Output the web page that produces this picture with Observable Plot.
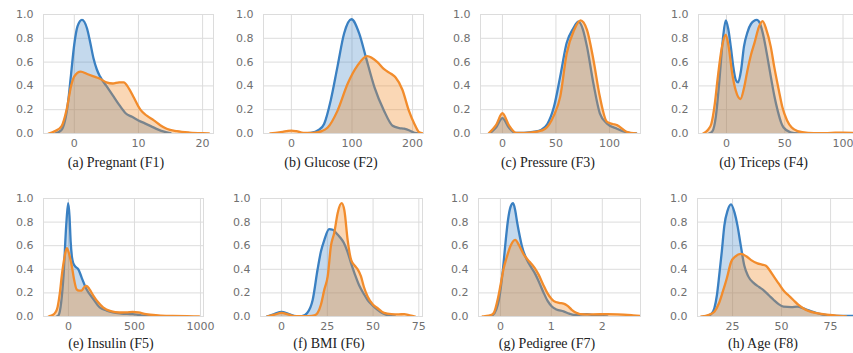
<!DOCTYPE html>
<html>
<head>
<meta charset="utf-8">
<script src="https://cdn.jsdelivr.net/npm/d3@7"></script>
<script src="https://cdn.jsdelivr.net/npm/@observablehq/plot@0.6"></script>
<style>
  html, body { margin: 0; padding: 0; background: #fff; }
  #root { position: relative; width: 853px; height: 353px; overflow: hidden; background: #fff; }
  .panel { position: absolute; }
  div.cap { position: absolute; width: 220px; text-align: center; font-family: "Liberation Serif", "DejaVu Serif", "Times New Roman", serif; font-size: 14px; line-height: 15px; color: #222; white-space: nowrap; }
</style>
</head>
<body>
<div id="root"></div>
<script>
// ---- Data: KDE curves (blue = outcome 0, orange = outcome 1) ----
const captions = ["(a) Pregnant (F1)", "(b) Glucose (F2)", "(c) Pressure (F3)", "(d) Triceps (F4)",
                  "(e) Insulin (F5)", "(f) BMI (F6)", "(g) Pedigree (F7)", "(h) Age (F8)"];
const yTicks = [0, 0.2, 0.4, 0.6, 0.8, 1.0];
const xTicksPregnant = [0, 10, 20];
const xTicksGlucose = [0, 100, 200];
const xTicksPressure = [0, 50, 100];
const xTicksTriceps = [0, 50, 100];
const xTicksInsulin = [0, 500, 1000];
const xTicksBMI = [0, 25, 50, 75];
const xTicksPedigree = [0, 1, 2];
const xTicksAge = [25, 50, 75];

const pregnant0 = [[-3,0],[-2,0.03],[-1,0.25],[-0.5,0.5],[0,0.75],[0.5,0.9],[1.2,0.955],[2,0.88],[2.5,0.76],[3,0.63],[3.5,0.54],[4,0.48],[5,0.4],[6,0.32],[7,0.24],[8,0.17],[9,0.14],[10,0.11],[11,0.085],[12,0.06],[13,0.035],[14,0.015],[15,0.003]];
const pregnant1 = [[-4,0],[-3,0.02],[-2,0.06],[-1.2,0.2],[-0.5,0.4],[0,0.48],[1,0.52],[2,0.5],[3,0.48],[4,0.46],[5,0.43],[6,0.42],[7,0.43],[7.7,0.43],[8.5,0.38],[9.3,0.3],[10.3,0.2],[11.3,0.15],[12.4,0.11],[13.4,0.07],[14.4,0.04],[16,0.02],[18,0.008],[20,0.002],[21,0]];

const glucose0 = [[20,0],[32,0.005],[45,0.03],[54,0.08],[65,0.28],[76,0.56],[87,0.84],[99,0.96],[112,0.84],[123,0.64],[137,0.39],[153,0.19],[167,0.065],[178,0.045],[186,0.04],[195,0.025],[203,0.005],[210,0]];
const glucose1 = [[-35,0],[-20,0.01],[-8,0.02],[0,0.025],[8,0.02],[20,0.005],[35,0.005],[50,0.02],[60,0.05],[76,0.19],[93,0.42],[109,0.57],[125,0.65],[142,0.6],[153,0.54],[165,0.5],[172,0.47],[183,0.37],[194,0.19],[203,0.08],[211,0.01],[218,0]];

const pressure0 = [[-12,0],[-6,0.05],[0,0.13],[6,0.05],[12,0.005],[20,0.005],[30,0.015],[36,0.03],[42,0.08],[48,0.22],[54,0.48],[60,0.76],[66,0.88],[71,0.94],[75,0.88],[79,0.73],[85,0.42],[91,0.17],[97.5,0.085],[107,0.04],[116,0.01],[125,0]];
const pressure1 = [[-13,0],[-6,0.07],[0,0.17],[6,0.07],[13,0.005],[22,0.005],[32,0.015],[40,0.04],[48,0.15],[54,0.31],[60,0.67],[67,0.87],[73,0.95],[79,0.87],[85,0.62],[91,0.31],[97.5,0.1],[103,0.08],[107,0.07],[116,0.015],[125,0]];

const triceps0 = [[-15,0],[-12,0.02],[-9,0.15],[-6.3,0.42],[-3,0.8],[-0.6,0.95],[1.5,0.88],[3.7,0.73],[6,0.55],[8,0.45],[10,0.43],[12.5,0.53],[15,0.73],[18,0.85],[21,0.92],[26,0.955],[28.5,0.93],[31,0.85],[35,0.65],[38,0.48],[41,0.32],[44,0.19],[47,0.09],[49,0.05],[55,0.01],[62,0]];
const triceps1 = [[-20,0],[-16,0.03],[-13,0.08],[-10,0.25],[-7.7,0.45],[-4,0.72],[-0.6,0.83],[2,0.72],[5,0.5],[8,0.36],[12,0.29],[15,0.38],[18,0.53],[21,0.66],[24,0.76],[28,0.9],[31,0.945],[34,0.88],[38,0.73],[41,0.56],[45,0.36],[48,0.22],[52,0.11],[56,0.05],[61,0.02],[70,0.005],[80,0.002],[90,0.005],[100,0.008],[109,0.005]];

const insulin0 = [[-90,0],[-75,0.01],[-55,0.12],[-37,0.35],[-17,0.77],[-2,0.96],[8,0.85],[17,0.63],[27,0.5],[37,0.45],[55,0.42],[75,0.4],[100,0.33],[137,0.23],[187,0.15],[237,0.077],[290,0.05],[337,0.034],[400,0.025],[487,0.02],[550,0.01],[612,0.005],[700,0]];
const insulin1 = [[-150,0],[-137,0.005],[-110,0.02],[-87,0.06],[-65,0.2],[-50,0.35],[-30,0.5],[-12,0.58],[5,0.53],[25,0.43],[45,0.3],[62,0.23],[80,0.22],[100,0.22],[120,0.25],[137,0.26],[160,0.23],[187,0.18],[225,0.12],[262,0.077],[320,0.045],[387,0.034],[440,0.035],[487,0.04],[530,0.035],[587,0.02],[680,0.01],[787,0.005],[900,0.002],[990,0]];

const bmi0 = [[-8,0],[-4,0.02],[0,0.04],[4,0.02],[8,0.003],[11,0.002],[14,0.03],[17,0.14],[19.7,0.4],[21.5,0.55],[23.4,0.65],[26,0.74],[28,0.735],[29.7,0.71],[32,0.67],[34,0.625],[36,0.55],[38,0.45],[40,0.36],[42.5,0.26],[45,0.19],[47,0.14],[50,0.09],[52.5,0.057],[55,0.03],[58,0.01],[62,0]];
const bmi1 = [[-8,0],[-4,0.015],[0,0.03],[4,0.015],[8,0.003],[15,0.003],[18,0.01],[19.7,0.03],[21.5,0.1],[23.4,0.23],[25.2,0.34],[27,0.6],[28.8,0.71],[30.7,0.88],[32.8,0.96],[34.3,0.9],[36.1,0.65],[38,0.48],[40,0.43],[41.6,0.4],[43.4,0.34],[45,0.25],[47,0.17],[50,0.1],[52.5,0.07],[56,0.03],[60,0.02],[64,0.018],[67,0.02],[70,0.01],[73,0]];

const pedigree0 = [[-0.25,0],[-0.16,0.01],[-0.08,0.06],[-0.03,0.14],[0.05,0.4],[0.1,0.625],[0.15,0.82],[0.2,0.93],[0.25,0.96],[0.29,0.9],[0.33,0.795],[0.38,0.68],[0.42,0.6],[0.52,0.48],[0.6,0.42],[0.69,0.355],[0.77,0.28],[0.85,0.2],[0.93,0.13],[1.01,0.085],[1.1,0.06],[1.24,0.043],[1.35,0.025],[1.44,0.014],[1.55,0.015],[1.7,0.02],[1.85,0.01],[1.96,0.005],[2.1,0]];
const pedigree1 = [[-0.35,0],[-0.3,0.003],[-0.2,0.01],[-0.13,0.03],[-0.05,0.15],[0,0.26],[0.06,0.4],[0.13,0.51],[0.2,0.6],[0.29,0.65],[0.37,0.6],[0.46,0.525],[0.54,0.48],[0.62,0.44],[0.69,0.4],[0.75,0.355],[0.84,0.27],[0.92,0.2],[1.0,0.15],[1.05,0.13],[1.15,0.115],[1.24,0.11],[1.32,0.09],[1.4,0.057],[1.5,0.03],[1.57,0.02],[1.8,0.018],[2.1,0.02],[2.3,0.018],[2.6,0.01],[2.75,0.005]];

const age0 = [[10,0],[12.3,0.005],[14,0.02],[15.7,0.07],[17,0.18],[18.2,0.35],[19.5,0.55],[20.8,0.77],[22.5,0.9],[24.2,0.95],[26,0.88],[27.5,0.77],[29,0.62],[31,0.43],[33,0.34],[36,0.28],[38.5,0.25],[41,0.22],[43.5,0.18],[46,0.14],[48.5,0.105],[51,0.084],[55,0.08],[58,0.084],[61,0.07],[63,0.056],[66,0.04],[70,0.02],[78,0.005],[87,0.005]];
const age1 = [[9,0],[10.6,0.003],[13,0.015],[15.7,0.04],[18,0.11],[20,0.21],[22,0.32],[24.2,0.46],[26.5,0.51],[29.2,0.53],[32,0.51],[34.3,0.48],[37.7,0.45],[40,0.44],[42,0.43],[44,0.39],[46,0.34],[48.5,0.28],[51,0.22],[53.5,0.18],[56,0.14],[58.5,0.1],[61,0.07],[64,0.045],[68,0.028],[73,0.015],[78,0.008],[83,0]];

// ---- Layout ----
const BLUE = "#3a80c2", ORANGE = "#f28c2c";
const panels = [
  {c0: pregnant0, c1: pregnant1, ticks: xTicksPregnant, domain: [-4.8, 21.7], L: 43, R: 213, T: 14, B: 133},
  {c0: glucose0, c1: glucose1, ticks: xTicksGlucose, domain: [-46, 218], L: 263, R: 423, T: 14, B: 133},
  {c0: pressure0, c1: pressure1, ticks: xTicksPressure, domain: [-20.5, 129], L: 480, R: 640, T: 14, B: 133},
  {c0: triceps0, c1: triceps1, ticks: xTicksTriceps, domain: [-24, 109], L: 698, R: 853, T: 14, B: 133},
  {c0: insulin0, c1: insulin1, ticks: xTicksInsulin, domain: [-189, 1023], L: 43, R: 203, T: 198, B: 316},
  {c0: bmi0, c1: bmi1, ticks: xTicksBMI, domain: [-11.5, 77], L: 260, R: 422, T: 198, B: 316},
  {c0: pedigree0, c1: pedigree1, ticks: xTicksPedigree, domain: [-0.43, 2.75], L: 478, R: 640, T: 198, B: 316},
  {c0: age0, c1: age1, ticks: xTicksAge, domain: [7.1, 86.7], L: 697, R: 853, T: 198, B: 316}
];
const capTop = [155, 155, 155, 155, 336, 336, 336, 336];

const root = document.getElementById("root");
const ML = 40, MR = 0, MT = 6, MB = 24;
const fx = d => d[0], fy = d => d[1];
const curve = "monotone-x";

panels.forEach((p, i) => {
  const fw = p.R - p.L, fh = p.B - p.T;
  const chart = Plot.plot({
    width: fw + ML + MR,
    height: fh + MT + MB,
    marginLeft: ML, marginRight: MR, marginTop: MT, marginBottom: MB,
    x: {domain: p.domain},
    y: {domain: [0, 1]},
    style: {fontFamily: "'DejaVu Sans', sans-serif", fontSize: "11px", color: "#707070", background: "transparent", overflow: "visible"},
    marks: [
      Plot.gridX(p.ticks, {stroke: "#dcdcdc", strokeOpacity: 1}),
      Plot.gridY(yTicks, {stroke: "#dcdcdc", strokeOpacity: 1}),
      Plot.frame({stroke: "#dcdcdc"}),
      Plot.areaY(p.c0, {x: fx, y: fy, fill: BLUE, fillOpacity: 0.3, curve, clip: true}),
      Plot.lineY(p.c0, {x: fx, y: fy, stroke: BLUE, strokeWidth: 2.3, curve, clip: true}),
      Plot.areaY(p.c1, {x: fx, y: fy, fill: ORANGE, fillOpacity: 0.35, curve, clip: true}),
      Plot.lineY(p.c1, {x: fx, y: fy, stroke: ORANGE, strokeWidth: 2.3, curve, clip: true}),
      Plot.axisX(p.ticks, {tickSize: 0, tickPadding: 6, label: null, tickFormat: d => String(d)}),
      Plot.axisY(yTicks, {tickSize: 0, tickPadding: 10, label: null, tickFormat: d3.format(".1f")})
    ]
  });
  chart.classList.add("panel");
  chart.style.left = (p.L - ML) + "px";
  chart.style.top = (p.T - MT) + "px";
  root.appendChild(chart);

  const cap = document.createElement("div");
  cap.className = "cap";
  cap.textContent = captions[i];
  cap.style.fontFamily = "'Liberation Serif', 'DejaVu Serif', serif";
  cap.style.left = ((p.L + p.R) / 2 - 12 - 110) + "px";
  cap.style.top = capTop[i] + "px";
  root.appendChild(cap);
});
</script>
</body>
</html>
